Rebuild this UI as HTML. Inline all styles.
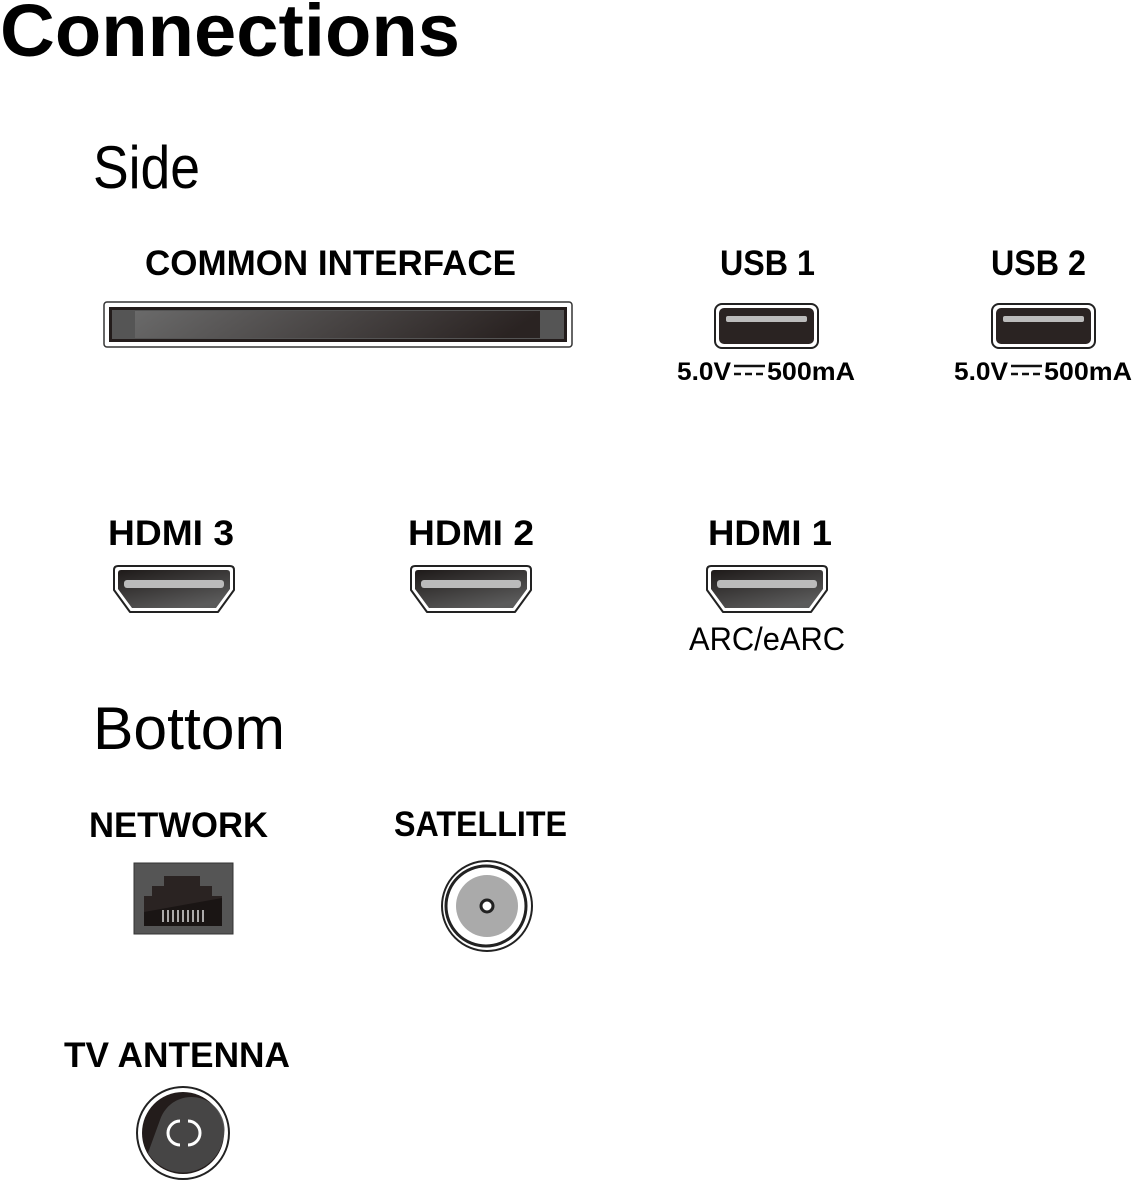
<!DOCTYPE html>
<html><head><meta charset="utf-8"><style>html,body{margin:0;padding:0;background:#fff;}svg{display:block}</style></head><body>
<svg width="1135" height="1181" viewBox="0 0 1135 1181" xmlns="http://www.w3.org/2000/svg" font-family="Liberation Sans, sans-serif">
<defs>
<linearGradient id="ci" x1="0" y1="0" x2="1" y2="0.1"><stop offset="0" stop-color="#6a6a6a"/><stop offset="1" stop-color="#2a2322"/></linearGradient>
<linearGradient id="hd" x1="0" y1="0" x2="0.6" y2="1"><stop offset="0" stop-color="#1e1a19"/><stop offset="1" stop-color="#5a5a5a"/></linearGradient>
</defs>
<text x="0" y="56" font-size="74" font-weight="bold" textLength="460" lengthAdjust="spacingAndGlyphs">Connections</text>
<text x="93" y="188" font-size="60" textLength="107" lengthAdjust="spacingAndGlyphs">Side</text>
<g font-weight="bold" font-size="35">
<text x="145" y="275" textLength="371" lengthAdjust="spacingAndGlyphs">COMMON INTERFACE</text>
<text x="720" y="275" textLength="95" lengthAdjust="spacingAndGlyphs">USB 1</text>
<text x="991" y="275" textLength="95" lengthAdjust="spacingAndGlyphs">USB 2</text>
<text x="108" y="545" textLength="126" lengthAdjust="spacingAndGlyphs">HDMI 3</text>
<text x="408" y="545" textLength="126" lengthAdjust="spacingAndGlyphs">HDMI 2</text>
<text x="708" y="545" textLength="124" lengthAdjust="spacingAndGlyphs">HDMI 1</text>
<text x="89" y="837" textLength="179" lengthAdjust="spacingAndGlyphs">NETWORK</text>
<text x="394" y="836" textLength="173" lengthAdjust="spacingAndGlyphs">SATELLITE</text>
<text x="64" y="1067" textLength="226" lengthAdjust="spacingAndGlyphs">TV ANTENNA</text>
</g>
<text x="93" y="749" font-size="60" textLength="192" lengthAdjust="spacingAndGlyphs">Bottom</text>
<text x="689" y="650" font-size="32" textLength="156" lengthAdjust="spacingAndGlyphs">ARC/eARC</text>
<!-- CI slot -->
<rect x="104" y="302" width="468" height="45" rx="3" fill="#fff" stroke="#333" stroke-width="1.5"/>
<rect x="109" y="307" width="458" height="35" fill="#231c1b"/>
<rect x="112" y="310" width="452" height="29" fill="#555"/>
<rect x="135" y="311" width="405" height="27" fill="url(#ci)"/>
<!-- USB -->
<g id="usb">
<rect x="715" y="304" width="103" height="44" rx="7" fill="#fff" stroke="#222" stroke-width="2"/>
<rect x="719" y="308" width="95" height="36" rx="5" fill="#2a2322"/>
<rect x="726" y="316" width="81" height="6" rx="2" fill="#bbb"/>
<g font-weight="bold" font-size="25">
<text x="677" y="380" textLength="54" lengthAdjust="spacingAndGlyphs">5.0V</text>
<text x="767" y="380" textLength="88" lengthAdjust="spacingAndGlyphs">500mA</text>
</g>
<line x1="734" y1="366" x2="765" y2="366" stroke="#111" stroke-width="2.5"/>
<line x1="734" y1="374" x2="765" y2="374" stroke="#111" stroke-width="2.5" stroke-dasharray="7,4"/>
</g>
<use href="#usb" x="277"/>
<!-- HDMI -->
<g id="hdmi">
<path d="M118 566 H230 Q234 566 234 570 V590 L218 612 H130 L114 590 V570 Q114 566 118 566 Z" fill="#fff" stroke="#222" stroke-width="2" stroke-linejoin="round"/>
<path d="M121 570 H227 Q230 570 230 573 V589 L216 608 H132 L118 589 V573 Q118 570 121 570 Z" fill="url(#hd)"/>
<rect x="124" y="580" width="100" height="8" rx="3" fill="#bbb"/>
</g>
<use href="#hdmi" x="297"/>
<use href="#hdmi" x="593"/>
<!-- RJ45 -->
<rect x="134" y="863" width="99" height="71" fill="#555" stroke="#333"/>
<path d="M144 926 V896 H152 V886 H164 V876 H200 V886 H212 V896 H222 V926 Z" fill="#2a2322"/>
<path d="M144 926 V912 L222 898 V926 Z" fill="#1a1514"/>
<g stroke="#ddd" stroke-width="1.5"><line x1="163" y1="910" x2="163" y2="922"/><line x1="168" y1="910" x2="168" y2="922"/><line x1="173" y1="910" x2="173" y2="922"/><line x1="178" y1="910" x2="178" y2="922"/><line x1="183" y1="910" x2="183" y2="922"/><line x1="188" y1="910" x2="188" y2="922"/><line x1="193" y1="910" x2="193" y2="922"/><line x1="198" y1="910" x2="198" y2="922"/><line x1="203" y1="910" x2="203" y2="922"/></g>
<!-- Satellite -->
<circle cx="487" cy="906" r="45" fill="#fff" stroke="#222" stroke-width="2"/>
<circle cx="486" cy="906" r="40" fill="#fff" stroke="#222" stroke-width="3"/>
<circle cx="487" cy="906" r="31" fill="#aaa"/>
<circle cx="487" cy="906" r="6" fill="#fff" stroke="#222" stroke-width="3"/>
<!-- Antenna -->
<circle cx="183" cy="1133" r="46" fill="#fff" stroke="#222" stroke-width="2"/>
<circle cx="183" cy="1133" r="41" fill="#231c1b"/>
<path d="M148 1153 A41 41 0 0 0 223 1140 A30 30 0 0 0 160 1120 Z" fill="#4a4a4a" opacity="0.9"/>
<path d="M180 1121 A12 12 0 0 0 180 1145" fill="none" stroke="#fff" stroke-width="3"/>
<path d="M188 1121 A12 12 0 0 1 188 1145" fill="none" stroke="#fff" stroke-width="3"/>
</svg>
</body></html>
